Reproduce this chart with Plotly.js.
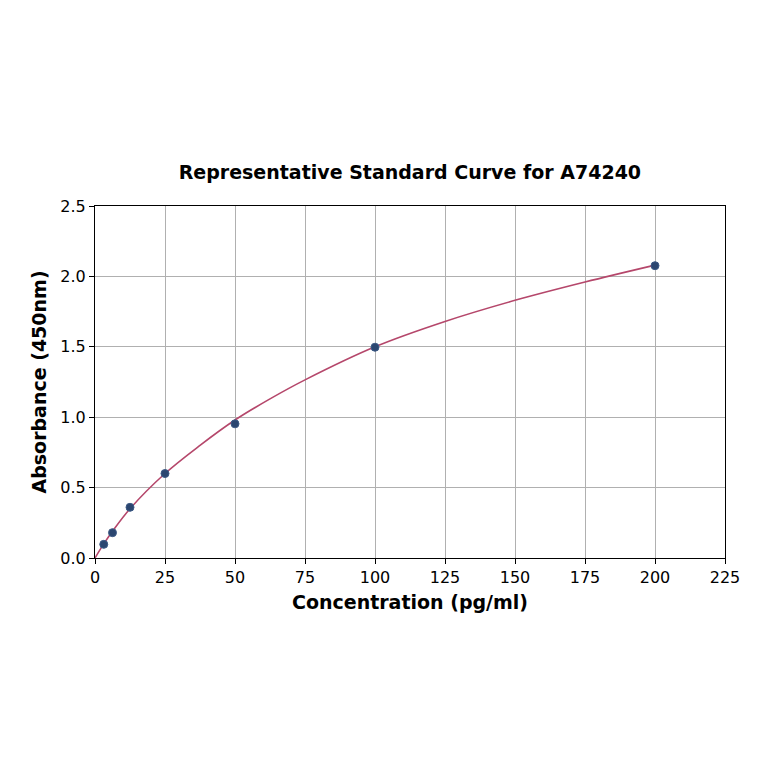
<!DOCTYPE html>
<html>
<head>
<meta charset="utf-8">
<script src="https://cdn.plot.ly/plotly-3.0.1.min.js"></script>
<style>
  html, body { margin: 0; padding: 0; background: #fff; }
  #chart { width: 764px; height: 764px; }
</style>
</head>
<body>
<div id="chart"></div>
<script>
// standard points (concentration pg/ml, absorbance 450nm)
const concPoints = [3.125, 6.25, 12.5, 25, 50, 100, 200];
const absPoints = [0.097, 0.18, 0.36, 0.60, 0.953, 1.497, 2.076];

// fitted curve
const curveX = [0, 3.125, 6.25, 12.5, 25, 37.5, 50, 62.5, 75, 100, 125, 150, 175, 200];
const curveY = [0.0, 0.1, 0.19, 0.35, 0.6, 0.8, 0.98, 1.13, 1.265, 1.5, 1.68, 1.83, 1.96, 2.08];

const xTicks = [0, 25, 50, 75, 100, 125, 150, 175, 200, 225];
const yTicks = [0.0, 0.5, 1.0, 1.5, 2.0, 2.5];

const font = "DejaVu Sans, sans-serif";

const traces = [
    {
        x: curveX, y: curveY,
        type: "scatter", mode: "lines",
        line: { color: "#b5476b", width: 1.6, shape: "spline", smoothing: 1 },
        hoverinfo: "skip"
    },
    {
        x: concPoints, y: absPoints,
        type: "scatter", mode: "markers",
        marker: { size: 8, color: "#2b4670", line: { width: 1, color: "#3d5a85" } }
    }
];

const axisBase = {
    showgrid: true, gridcolor: "#b0b0b0", gridwidth: 1,
    showline: true, linecolor: "#000", linewidth: 1, mirror: true,
    ticks: "outside", ticklen: 5, tickwidth: 1, tickcolor: "#000",
    tickfont: { family: font, size: 16, color: "#000" },
    zeroline: false
};

const layout = {
    width: 764, height: 764,
    margin: { l: 95, r: 39, t: 206, b: 206 },
    paper_bgcolor: "#fff", plot_bgcolor: "#fff",
    showlegend: false,
    title: {
        text: "<b>Representative Standard Curve for A74240</b>",
        font: { family: font, size: 19, color: "#000" },
        x: 0.5365, xanchor: "center", y: 0.775, yanchor: "middle"
    },
    xaxis: Object.assign({}, axisBase, {
        range: [0, 225], tickvals: xTicks, ticktext: xTicks.map(String),
        title: { text: "<b>Concentration (pg/ml)</b>", font: { family: font, size: 19, color: "#000" }, standoff: 9 }
    }),
    yaxis: Object.assign({}, axisBase, {
        range: [0, 2.5], tickvals: yTicks, ticktext: yTicks.map(v => v.toFixed(1)),
        title: { text: "<b>Absorbance (450nm)</b>", font: { family: font, size: 19, color: "#000" }, standoff: 8 }
    })
};

Plotly.newPlot("chart", traces, layout, { displayModeBar: false, staticPlot: true });
</script>
</body>
</html>
